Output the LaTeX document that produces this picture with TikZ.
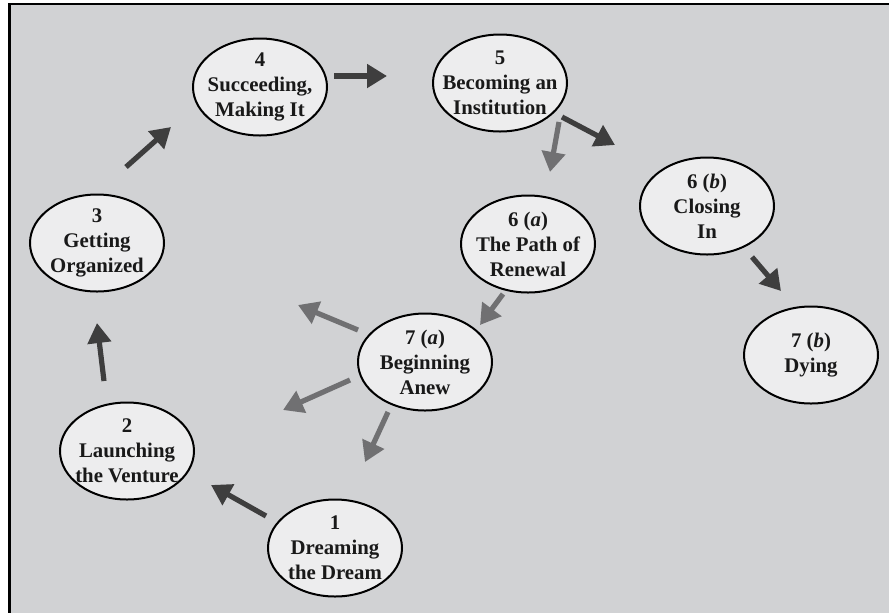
\documentclass[tikz,border=0pt]{standalone}
\usepackage{fontspec}
\setmainfont{Liberation Serif}
\usetikzlibrary{arrows.meta,shapes.geometric}
\definecolor{bgfill}{RGB}{209,210,212}
\definecolor{ellfill}{RGB}{237,237,238}
\definecolor{darkarr}{RGB}{62,62,62}
\definecolor{grayarr}{RGB}{112,112,114}
\tikzset{
  blob/.style={ellipse, draw=black, line width=1pt, fill=ellfill, minimum width=67pt, minimum height=48.5pt, inner sep=0pt},
  lbl/.style={align=center, inner sep=0pt, font=\fontsize{10.4}{12.5}\selectfont\bfseries, text=black!90},
  darr/.style={draw=darkarr, line width=2.6pt, -{Triangle[length=10pt,width=11.5pt]}},
  garr/.style={draw=grayarr, line width=2.6pt, -{Triangle[length=10pt,width=11.5pt]}}
}
\begin{document}
\begin{tikzpicture}[x=0.5pt,y=-0.5pt]
\useasboundingbox (0,0) rectangle (889,612);
\begin{scope}
\clip (0,0) rectangle (889,612);
\fill[bgfill] (9.5,4.3) rectangle (900,630);
\draw[line width=1.1pt] (9.5,630) -- (9.5,4.3) -- (900,4.3);
\end{scope}
% ellipses
\node[blob] (e1) at (335,548) {};
\node[blob] (e2) at (127,451) {};
\node[blob] (e3) at (97,243) {};
\node[blob] (e4) at (260,87) {};
\node[blob] (e5) at (500,83) {};
\node[blob] (e6a) at (528,244) {};
\node[blob] (e6b) at (707,206) {};
\node[blob] (e7a) at (425,362) {};
\node[blob] (e7b) at (811,355) {};
% labels
\node[lbl] (t1) at (e1) {1\\Dreaming\\the Dream};
\node[lbl] (t2) at (e2) {2\\Launching\\the Venture};
\node[lbl] (t3) at (e3) {3\\Getting\\Organized};
\node[lbl] (t4) at (e4) {4\\Succeeding,\\Making It};
\node[lbl] (t5) at (e5) {5\\Becoming an\\Institution};
\node[lbl] (t6a) at (e6a) {6 (\textit{a})\\The Path of\\Renewal};
\node[lbl] (t6b) at (e6b) {6 (\textit{b})\\Closing\\In};
\node[lbl] (t7a) at (e7a) {7 (\textit{a})\\Beginning\\Anew};
\node[lbl] (t7b) at (e7b) {7 (\textit{b})\\Dying};
% arrow end points
\coordinate (a12s) at (266,516); \coordinate (a12e) at (211,485);
\coordinate (a23s) at (104,381); \coordinate (a23e) at (97,323);
\coordinate (a34s) at (126,167); \coordinate (a34e) at (171,127);
\coordinate (a45s) at (334,76);  \coordinate (a45e) at (387,76);
\coordinate (a56bs) at (562,117); \coordinate (a56be) at (615,145);
\coordinate (a56as) at (559,122); \coordinate (a56ae) at (550,172);
\coordinate (a6b7bs) at (752,257); \coordinate (a6b7be) at (781,291);
\coordinate (a6a7as) at (503,294); \coordinate (a6a7ae) at (480,325);
\coordinate (a7a3s) at (358,330); \coordinate (a7a3e) at (298,305);
\coordinate (a7a2s) at (350,380); \coordinate (a7a2e) at (283,410);
\coordinate (a7a1s) at (388,412); \coordinate (a7a1e) at (365,462);
% arrows
\draw[darr] (a12s) -- (a12e);
\draw[darr] (a23s) -- (a23e);
\draw[darr] (a34s) -- (a34e);
\draw[darr] (a45s) -- (a45e);
\draw[darr] (a56bs) -- (a56be);
\draw[garr] (a56as) -- (a56ae);
\draw[darr] (a6b7bs) -- (a6b7be);
\draw[garr] (a6a7as) -- (a6a7ae);
\draw[garr] (a7a3s) -- (a7a3e);
\draw[garr] (a7a2s) -- (a7a2e);
\draw[garr] (a7a1s) -- (a7a1e);
\end{tikzpicture}
\end{document}
